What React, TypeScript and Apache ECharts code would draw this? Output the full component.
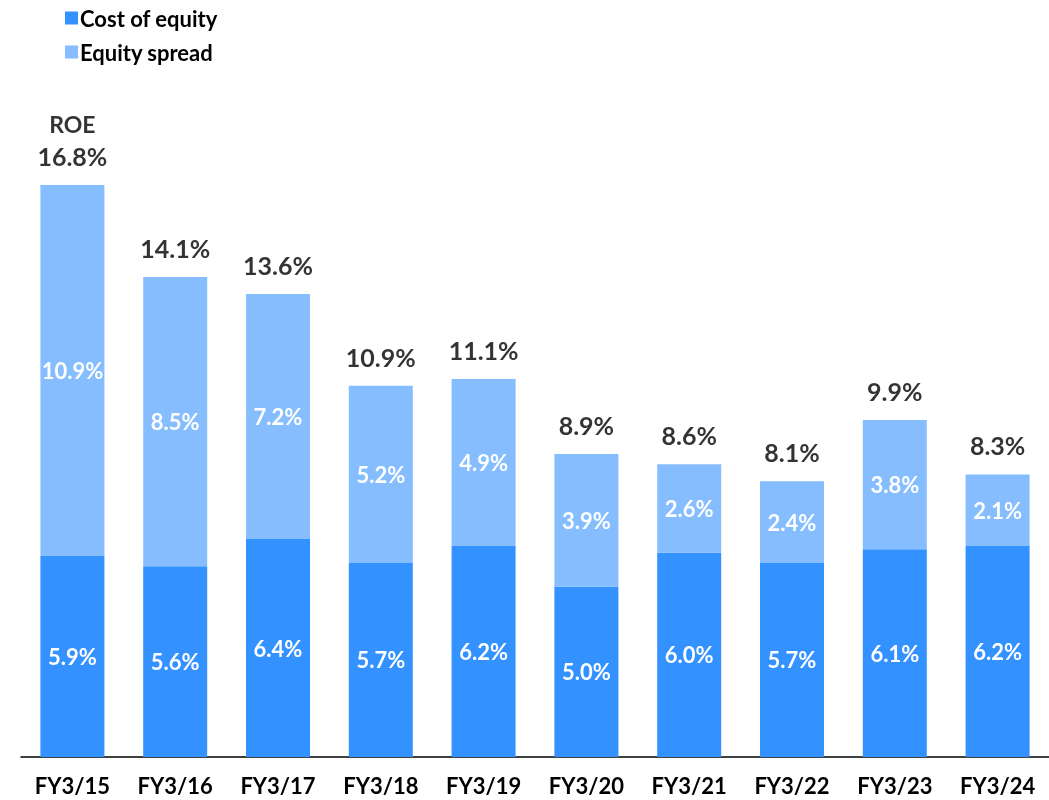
import React, { useEffect, useRef } from "react";
import * as echarts from "echarts";

const categories = ["FY3/15", "FY3/16", "FY3/17", "FY3/18", "FY3/19", "FY3/20", "FY3/21", "FY3/22", "FY3/23", "FY3/24"];
const costOfEquity = [5.9, 5.6, 6.4, 5.7, 6.2, 5.0, 6.0, 5.7, 6.1, 6.2];
const equitySpread = [10.9, 8.5, 7.2, 5.2, 4.9, 3.9, 2.6, 2.4, 3.8, 2.1];
const roe = [16.8, 14.1, 13.6, 10.9, 11.1, 8.9, 8.6, 8.1, 9.9, 8.3];

const FONT = "Lato, 'Open Sans', sans-serif";

export default function App() {
  const ref = useRef<HTMLDivElement>(null);
  useEffect(() => {
    if (!ref.current) return;
    const chart = echarts.init(ref.current, undefined, { renderer: "svg" });
    const inner = {
      show: true,
      position: "inside",
      formatter: (p: any) => p.value.toFixed(1) + "%",
      color: "#fff",
      fontSize: 22,
      fontWeight: "bold",
      fontFamily: FONT,
    };
    chart.setOption({
      animation: false,
      textStyle: { fontFamily: FONT },
      legend: {
        orient: "vertical",
        left: 60,
        top: 2,
        itemWidth: 13,
        itemHeight: 13,
        itemGap: 12,
        icon: "rect",
        textStyle: { fontSize: 22, fontWeight: "bold", color: "#000", fontFamily: FONT, padding: [0, 0, 0, -3] },
        data: ["Cost of equity", "Equity spread"],
      },
      grid: { left: 21, right: 0, top: 76, bottom: 43, containLabel: false },
      xAxis: {
        type: "category",
        data: categories,
        axisLine: { lineStyle: { color: "#000", width: 1.5 } },
        axisTick: { show: false },
        axisLabel: { fontSize: 22, fontWeight: "bold", color: "#000", margin: 17, fontFamily: FONT },
      },
      yAxis: {
        type: "value",
        min: 0,
        max: 20,
        show: false,
        splitLine: { show: false },
      },
      series: [
        {
          name: "Cost of equity",
          type: "bar",
          stack: "roe",
          barWidth: 64,
          data: costOfEquity,
          itemStyle: { color: "#3392FF" },
          label: inner,
        },
        {
          name: "Equity spread",
          type: "bar",
          stack: "roe",
          barWidth: 64,
          data: equitySpread,
          itemStyle: { color: "#85BDFF" },
          label: inner,
        },
        {
          name: "ROE",
          type: "scatter",
          symbolSize: 0,
          data: roe,
          label: {
            show: true,
            position: "top",
            distance: 14,
            formatter: (p: any) => (p.dataIndex === 0 ? "{r|ROE}\n" : "") + "{v|" + p.value.toFixed(1) + "%}",
            rich: {
              r: { fontSize: 23, fontWeight: "bold", color: "#000", fontFamily: FONT, lineHeight: 33 },
              v: { fontSize: 25, fontWeight: "bold", color: "#000", fontFamily: FONT, lineHeight: 30 },
            },
          },
        },
      ],
    });
    return () => chart.dispose();
  }, []);
  return <div ref={ref} style={{ position: "fixed", left: 0, top: 0, width: 1049, height: 800 }} />;
}
